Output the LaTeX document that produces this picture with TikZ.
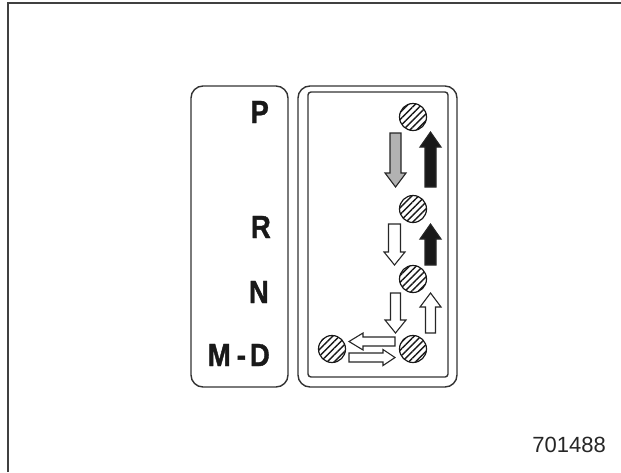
\documentclass[tikz,border=0pt]{standalone}
\usepackage{fontspec}
\setmainfont{Liberation Sans}
\newfontfamily\gearfont[FakeStretch=0.86, FakeBold=1.2]{Liberation Sans Bold}
\usetikzlibrary{patterns.meta, positioning}

\tikzset{
  panel/.style={draw=black!80, line width=1.4pt, rounded corners=12pt},
  detent/.style={circle, draw=black!90, line width=1.2pt, minimum size=27pt, inner sep=0pt,
    pattern={Lines[angle=45, distance=4.8pt, line width=1.4pt]}, pattern color=black!90},
  gear/.style={font=\fontsize{32}{32}\gearfont, inner sep=0pt, anchor=base east, text=black!90},
  % block arrow: length, head length, shaft half width, head half width
  pics/blockarrow/.style n args={4}{code={
    \draw[pic actions, line width=1.1pt, line join=miter]
      (0,-#3) -- (#1-#2,-#3) -- (#1-#2,-#4) -- (#1,0) -- (#1-#2,#4) -- (#1-#2,#3) -- (0,#3) -- cycle;
  }}
}

\begin{document}
\begin{tikzpicture}[x=1pt, y=-1pt]
  \useasboundingbox (0,0) rectangle (621,472);
  % frame
  \draw[black!75, line width=2pt] (8,472) -- (8,3) -- (621,3);
  % panels
  \draw[panel] (191,86) rectangle (288,387);
  \draw[panel] (298,86) rectangle (457,387);
  \draw[black!80, line width=1.4pt, rounded corners=3pt] (308,92) rectangle (448,377);
  % gear labels
  \node[gear] (lP) at (269,123) {P};
  \node[gear] (lR) at (271,238) {R};
  \node[gear] (lN) at (269,303) {N};
  \node[gear] (lD) at (270,366) {M\hspace{6pt}-\hspace{4pt}D};
  % detents
  \node[detent] (P) at (413,117) {};
  \node[detent] (R) at (413,209) {};
  \node[detent] (N) at (413,279) {};
  \node[detent] (D) at (413,349) {};
  \node[detent] (M) at (332,349) {};
  % shift arrows
  \pic[rotate=-90, draw=black!85, fill=black!30] at (395.5,133) {blockarrow={54}{14}{5.5}{10.5}};
  \pic[rotate=90, draw=black!85, fill=black!90] at (430.5,187) {blockarrow={55}{15}{5.5}{10.5}};
  \pic[rotate=-90, draw=black!85, fill=white] at (394.5,224) {blockarrow={41}{13}{6}{10.5}};
  \pic[rotate=90, draw=black!85, fill=black!90] at (430.5,265) {blockarrow={41}{15}{5.5}{10.5}};
  \pic[rotate=-90, draw=black!85, fill=white] at (395.5,293) {blockarrow={40}{13}{5}{10.5}};
  \pic[rotate=90, draw=black!85, fill=white] at (430.5,333) {blockarrow={40}{14}{5}{10.5}};
  \pic[rotate=180, draw=black!85, fill=white] at (395,341.5) {blockarrow={46}{14}{4.5}{8.5}};
  \pic[draw=black!85, fill=white] at (349,357.5) {blockarrow={46}{12}{4.5}{8}};
  % figure number
  \node[font=\fontsize{22}{22}\selectfont, inner sep=0pt, anchor=base east, text=black!85] (fig) at (606,452) {701488};
\end{tikzpicture}
\end{document}
